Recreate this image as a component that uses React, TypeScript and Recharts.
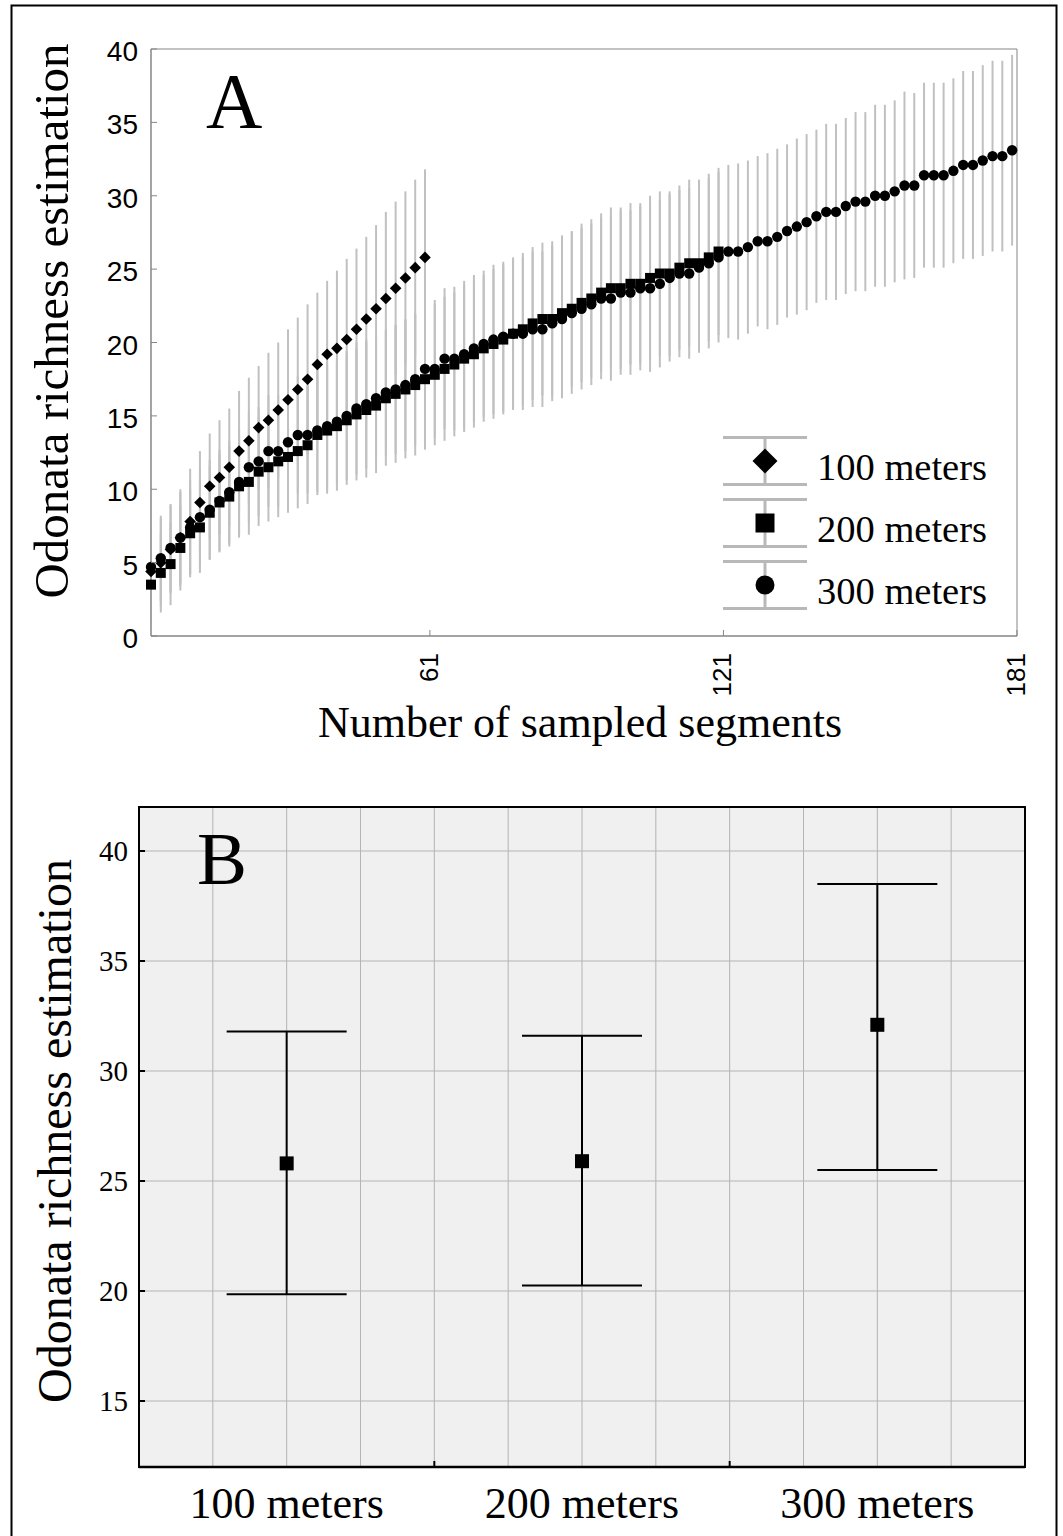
import React from 'react';
import { ScatterChart, Scatter, XAxis, YAxis, ErrorBar, CartesianGrid, ReferenceArea } from 'recharts';

const SERIF = '"Liberation Serif", "Times New Roman", serif';
const SANS = '"Liberation Sans", Arial, sans-serif';

// number of sampled segments (x positions of the rarefaction points)
const segments = [
  4, 6, 8, 10, 12, 14, 16, 18, 20, 22, 24, 26, 28, 30, 32, 34, 36, 38, 40, 42,
  44, 46, 48, 50, 52, 54, 56, 58, 60, 62, 64, 66, 68, 70, 72, 74, 76, 78, 80, 82,
  84, 86, 88, 90, 92, 94, 96, 98, 100, 102, 104, 106, 108, 110, 112, 114, 116, 118, 120, 122,
  124, 126, 128, 130, 132, 134, 136, 138, 140, 142, 144, 146, 148, 150, 152, 154, 156, 158, 160, 162,
  164, 166, 168, 170, 172, 174, 176, 178, 180,
];
const segmentTicks = [61, 121, 181];
const richnessTicks = [0, 5, 10, 15, 20, 25, 30, 35, 40];

const rich100 = [
  4.4, 5.0, 5.9, 6.7, 7.8, 9.1, 10.2, 10.8, 11.5, 12.6,
  13.3, 14.2, 14.7, 15.4, 16.1, 16.8, 17.5, 18.5, 19.2, 19.6,
  20.2, 20.9, 21.6, 22.3, 23.0, 23.7, 24.4, 25.1, 25.8,
];
const ci100 = [
  2.3, 3.0, 3.0, 3.3, 3.6, 3.5, 3.6, 3.9, 4.0, 4.1,
  4.3, 4.2, 4.6, 4.6, 4.8, 4.9, 5.1, 4.9, 5.0, 5.3,
  5.5, 5.5, 5.6, 5.7, 5.9, 5.9, 5.9, 6.0, 6.0,
];

const rich200 = [
  3.5, 4.3, 4.9, 6.0, 7.0, 7.4, 8.4, 9.1, 9.5, 10.2,
  10.5, 11.2, 11.5, 11.9, 12.2, 12.6, 13.0, 13.7, 14.0, 14.3,
  14.7, 15.1, 15.4, 15.7, 16.2, 16.5, 16.8, 17.1, 17.5, 17.8,
  18.2, 18.5, 18.9, 19.2, 19.6, 19.9, 20.2, 20.6, 20.9, 21.3,
  21.6, 21.6, 22.0, 22.3, 22.7, 23.0, 23.4, 23.7, 23.7, 24.0,
  24.0, 24.4, 24.7, 24.7, 25.1, 25.4, 25.4, 25.8, 26.2,
];
const ci200 = [
  2.6, 2.7, 2.8, 2.9, 3.0, 3.1, 3.2, 3.3, 3.4, 3.5,
  3.6, 3.7, 3.7, 3.8, 3.8, 3.9, 4.0, 4.1, 4.3, 4.4,
  4.4, 4.5, 4.6, 4.6, 4.6, 4.7, 4.7, 4.8, 4.8, 4.8,
  4.9, 4.9, 5.0, 5.0, 5.0, 5.1, 5.1, 5.1, 5.2, 5.2,
  5.2, 5.3, 5.3, 5.3, 5.4, 5.4, 5.4, 5.5, 5.5, 5.5,
  5.5, 5.6, 5.6, 5.6, 5.6, 5.7, 5.7, 5.7, 5.7,
];

const rich300 = [
  4.7, 5.3, 6.0, 6.7, 7.4, 8.1, 8.6, 9.2, 9.8, 10.5,
  11.5, 11.9, 12.6, 12.6, 13.2, 13.7, 13.7, 14.0, 14.3, 14.6,
  15.0, 15.5, 15.8, 16.2, 16.6, 16.8, 17.1, 17.5, 18.2, 18.2,
  18.9, 18.9, 19.2, 19.6, 19.9, 20.2, 20.4, 20.6, 20.6, 20.9,
  20.9, 21.3, 21.6, 22.0, 22.3, 22.6, 23.0, 23.0, 23.4, 23.4,
  23.7, 23.7, 24.0, 24.4, 24.7, 24.7, 25.1, 25.4, 25.8, 26.2,
  26.2, 26.5, 26.9, 26.9, 27.2, 27.6, 27.9, 28.2, 28.6, 28.9,
  28.9, 29.3, 29.6, 29.6, 30.0, 30.0, 30.3, 30.7, 30.7, 31.4,
  31.4, 31.4, 31.7, 32.1, 32.1, 32.4, 32.7, 32.7, 33.1,
];
const ci300 = [
  2.7, 2.9, 3.0, 3.1, 3.2, 3.3, 3.4, 3.5, 3.5, 3.6,
  3.7, 3.7, 3.8, 3.8, 3.9, 4.0, 4.0, 4.2, 4.3, 4.3,
  4.4, 4.5, 4.4, 4.3, 4.3, 4.4, 4.5, 4.5, 4.5, 4.7,
  4.8, 4.9, 5.0, 5.0, 5.0, 5.1, 5.1, 5.2, 5.2, 5.3,
  5.3, 5.3, 5.4, 5.5, 5.5, 5.5, 5.5, 5.6, 5.6, 5.6,
  5.6, 5.7, 5.7, 5.7, 5.7, 5.8, 5.8, 5.8, 5.8, 5.9,
  6.0, 5.9, 5.8, 6.0, 6.0, 5.9, 6.0, 6.0, 5.9, 6.0,
  6.0, 6.0, 6.1, 6.1, 6.2, 6.2, 6.2, 6.4, 6.3, 6.3,
  6.3, 6.3, 6.3, 6.4, 6.4, 6.5, 6.5, 6.5, 6.5,
];

// panel B: final estimate with 95% CI per segment length
const groups = ['100 meters', '200 meters', '300 meters'];
const groupPos = [2, 6, 10];
const groupTicks = [0, 1, 2, 3, 4, 5, 6, 7, 8, 9, 10, 11, 12];
const groupBounds = [4, 8];
const meanB = [25.8, 25.9, 32.1];
const lowB = [19.85, 20.25, 25.5];
const highB = [31.8, 31.6, 38.5];
const richnessTicksB = [15, 20, 25, 30, 35, 40];

const toPoints = (values: number[], ci: number[]) =>
  values.map((y, i) => ({ x: segments[i], y, ci: ci[i] }));

const pts100 = toPoints(rich100, ci100);
const pts200 = toPoints(rich200, ci200);
const pts300 = toPoints(rich300, ci300);

const ptsB = groupPos.map((x, i) => ({
  x,
  y: meanB[i],
  err: [meanB[i] - lowB[i], highB[i] - meanB[i]],
}));

const GRAY_AXIS = '#858585';
const GRAY_BAR = '#c0c0c0';

const Diamond = ({ cx, cy, r = 5.8 }: any) => (
  <polygon points={`${cx},${cy - r} ${cx + r},${cy} ${cx},${cy + r} ${cx - r},${cy}`} fill="#000" />
);
const Square = ({ cx, cy, s = 10 }: any) => (
  <rect x={cx - s / 2} y={cy - s / 2} width={s} height={s} fill="#000" />
);
const Dot = ({ cx, cy, r = 5.2 }: any) => <circle cx={cx} cy={cy} r={r} fill="#000" />;
const Empty = () => <g />;

const RichTickA = ({ x, y, payload }: any) => (
  <g>
    <line x1={x} x2={x + 6} y1={y} y2={y} stroke={GRAY_AXIS} />
    <text x={x - 13} y={y + 2} dy="0.36em" textAnchor="end" fontFamily={SANS} fontSize={28} fill="#000">
      {payload.value}
    </text>
  </g>
);

const SegTick = ({ x, y, payload }: any) => (
  <g>
    <line x1={x} x2={x} y1={y} y2={y - 6} stroke={GRAY_AXIS} />
    <text
      x={x + 8}
      y={y + 17}
      transform={`rotate(-90 ${x + 8} ${y + 17})`}
      textAnchor="end"
      fontFamily={SANS}
      fontSize={26}
      fill="#000"
    >
      {payload.value}
    </text>
  </g>
);

const RichTickB = ({ x, y, payload }: any) => (
  <g>
    <line x1={x} x2={x + 6} y1={y} y2={y} stroke="#000" strokeWidth={2} />
    <text x={x - 11} y={y} dy="0.34em" textAnchor="end" fontFamily={SERIF} fontSize={29} fill="#000">
      {payload.value}
    </text>
  </g>
);

const GroupTick = ({ x, y, payload }: any) => {
  const v = payload.value;
  const gi = groupPos.indexOf(v);
  if (groupBounds.includes(v)) {
    return <line x1={x} x2={x} y1={y} y2={y - 6} stroke="#000" strokeWidth={2} />;
  }
  if (gi < 0) return <g />;
  return (
    <text x={x} y={y + 51} textAnchor="middle" fontFamily={SERIF} fontSize={44} fill="#000">
      {groups[gi]}
    </text>
  );
};

// axis titles: fixed placement, prop names chosen so Label cloning does not override them
const TitleY = ({ px, py, size }: { px: number; py: number; size: number }) => (
  <text
    x={px}
    y={py}
    transform={`rotate(-90 ${px} ${py})`}
    textAnchor="middle"
    fontFamily={SERIF}
    fontSize={size}
    fill="#000"
  >
    Odonata richness estimation
  </text>
);

const TitleX = ({ px, py }: { px: number; py: number }) => (
  <text x={px} y={py} textAnchor="middle" fontFamily={SERIF} fontSize={44} fill="#000">
    Number of sampled segments
  </text>
);

const legendItems = [
  { name: '100 meters', Marker: () => <Diamond cx={765} cy={0} r={12.5} /> },
  { name: '200 meters', Marker: () => <Square cx={765} cy={0} s={19} /> },
  { name: '300 meters', Marker: () => <Dot cx={765} cy={0} r={9.5} /> },
];
const legendRows = [461, 523, 585];

function LegendA() {
  return (
    <g>
      {legendItems.map((item, i) => (
        <g key={item.name} transform={`translate(0 ${legendRows[i]})`}>
          <line x1={723} x2={807} y1={-23.5} y2={-23.5} stroke="#b8b8b8" strokeWidth={3} />
          <line x1={723} x2={807} y1={23.5} y2={23.5} stroke="#b8b8b8" strokeWidth={3} />
          <line x1={765} x2={765} y1={-23.5} y2={23.5} stroke="#b8b8b8" strokeWidth={3} />
          <item.Marker />
          <text x={817} y={19} fontFamily={SERIF} fontSize={38.5} fill="#000">
            {item.name}
          </text>
        </g>
      ))}
    </g>
  );
}

function PanelA() {
  return (
    <ScatterChart width={1063} height={760} margin={{ top: 49, right: 46, bottom: 0, left: 0 }}>
      <XAxis
        type="number"
        dataKey="x"
        domain={[4, 181]}
        ticks={segmentTicks}
        interval={0}
        height={124}
        axisLine={{ stroke: GRAY_AXIS }}
        tickLine={false}
        tickSize={0}
        tickMargin={0}
        tick={<SegTick />}
        label={<TitleX px={580} py={737} />}
      />
      <YAxis
        type="number"
        dataKey="y"
        domain={[0, 40]}
        ticks={richnessTicks}
        interval={0}
        width={151}
        axisLine={{ stroke: GRAY_AXIS }}
        tickLine={false}
        tickSize={0}
        tickMargin={0}
        tick={<RichTickA />}
        label={<TitleY px={68} py={321} size={49} />}
      />
      <ReferenceArea x1={4} x2={181} y1={0} y2={40} fill="none" stroke={GRAY_AXIS} strokeWidth={1} />
      <Scatter data={pts300} shape={<Empty />} isAnimationActive={false}>
        <ErrorBar dataKey="ci" direction="y" width={0} stroke={GRAY_BAR} strokeWidth={2} isAnimationActive={false} />
      </Scatter>
      <Scatter data={pts200} shape={<Empty />} isAnimationActive={false}>
        <ErrorBar dataKey="ci" direction="y" width={0} stroke={GRAY_BAR} strokeWidth={2} isAnimationActive={false} />
      </Scatter>
      <Scatter data={pts100} shape={<Empty />} isAnimationActive={false}>
        <ErrorBar dataKey="ci" direction="y" width={0} stroke={GRAY_BAR} strokeWidth={2} isAnimationActive={false} />
      </Scatter>
      <Scatter data={pts300} shape={(p: any) => <Dot cx={p.cx} cy={p.cy} />} isAnimationActive={false} />
      <Scatter data={pts200} shape={(p: any) => <Square cx={p.cx} cy={p.cy} />} isAnimationActive={false} />
      <Scatter data={pts100} shape={(p: any) => <Diamond cx={p.cx} cy={p.cy} />} isAnimationActive={false} />
    </ScatterChart>
  );
}

function PanelB() {
  return (
    <ScatterChart width={1063} height={776} margin={{ top: 47, right: 38, bottom: 0, left: 0 }}>
      <CartesianGrid fill="#f0f0f0" stroke="#b4b4b4" strokeWidth={1} />
      <XAxis
        type="number"
        dataKey="x"
        domain={[0, 12]}
        ticks={groupTicks}
        interval={0}
        height={69}
        axisLine={{ stroke: '#000', strokeWidth: 2.5 }}
        tickLine={false}
        tickSize={0}
        tickMargin={0}
        tick={<GroupTick />}
      />
      <YAxis
        type="number"
        dataKey="y"
        domain={[12, 42]}
        ticks={richnessTicksB}
        interval={0}
        width={139}
        axisLine={{ stroke: '#000', strokeWidth: 2 }}
        tickLine={false}
        tickSize={0}
        tickMargin={0}
        tick={<RichTickB />}
        label={<TitleY px={71} py={371} size={48} />}
      />
      <ReferenceArea x1={0} x2={12} y1={12} y2={42} fill="none" stroke="#000" strokeWidth={2} />
      <Scatter data={ptsB} shape={(p: any) => <Square cx={p.cx} cy={p.cy} s={14} />} isAnimationActive={false}>
        <ErrorBar dataKey="err" direction="y" width={60} stroke="#000" strokeWidth={2} isAnimationActive={false} />
      </Scatter>
    </ScatterChart>
  );
}

export default function App() {
  return (
    <div style={{ position: 'absolute', left: 0, top: 0, width: 1063, height: 1536, background: '#fff', overflow: 'hidden' }}>
      <div style={{ position: 'absolute', left: 0, top: 0 }}>
        <PanelA />
      </div>
      <div style={{ position: 'absolute', left: 0, top: 760 }}>
        <PanelB />
      </div>
      <svg
        width={1063}
        height={1536}
        style={{ position: 'absolute', left: 0, top: 0, pointerEvents: 'none' }}
      >
        <rect x={11.5} y={5.5} width={1045} height={1560} fill="none" stroke="#000" strokeWidth={2} />
        <text x={206} y={127} fontFamily={SERIF} fontSize={78} fill="#000">A</text>
        <text x={197} y={884} fontFamily={SERIF} fontSize={75} fill="#000">B</text>
        <LegendA />
      </svg>
    </div>
  );
}
